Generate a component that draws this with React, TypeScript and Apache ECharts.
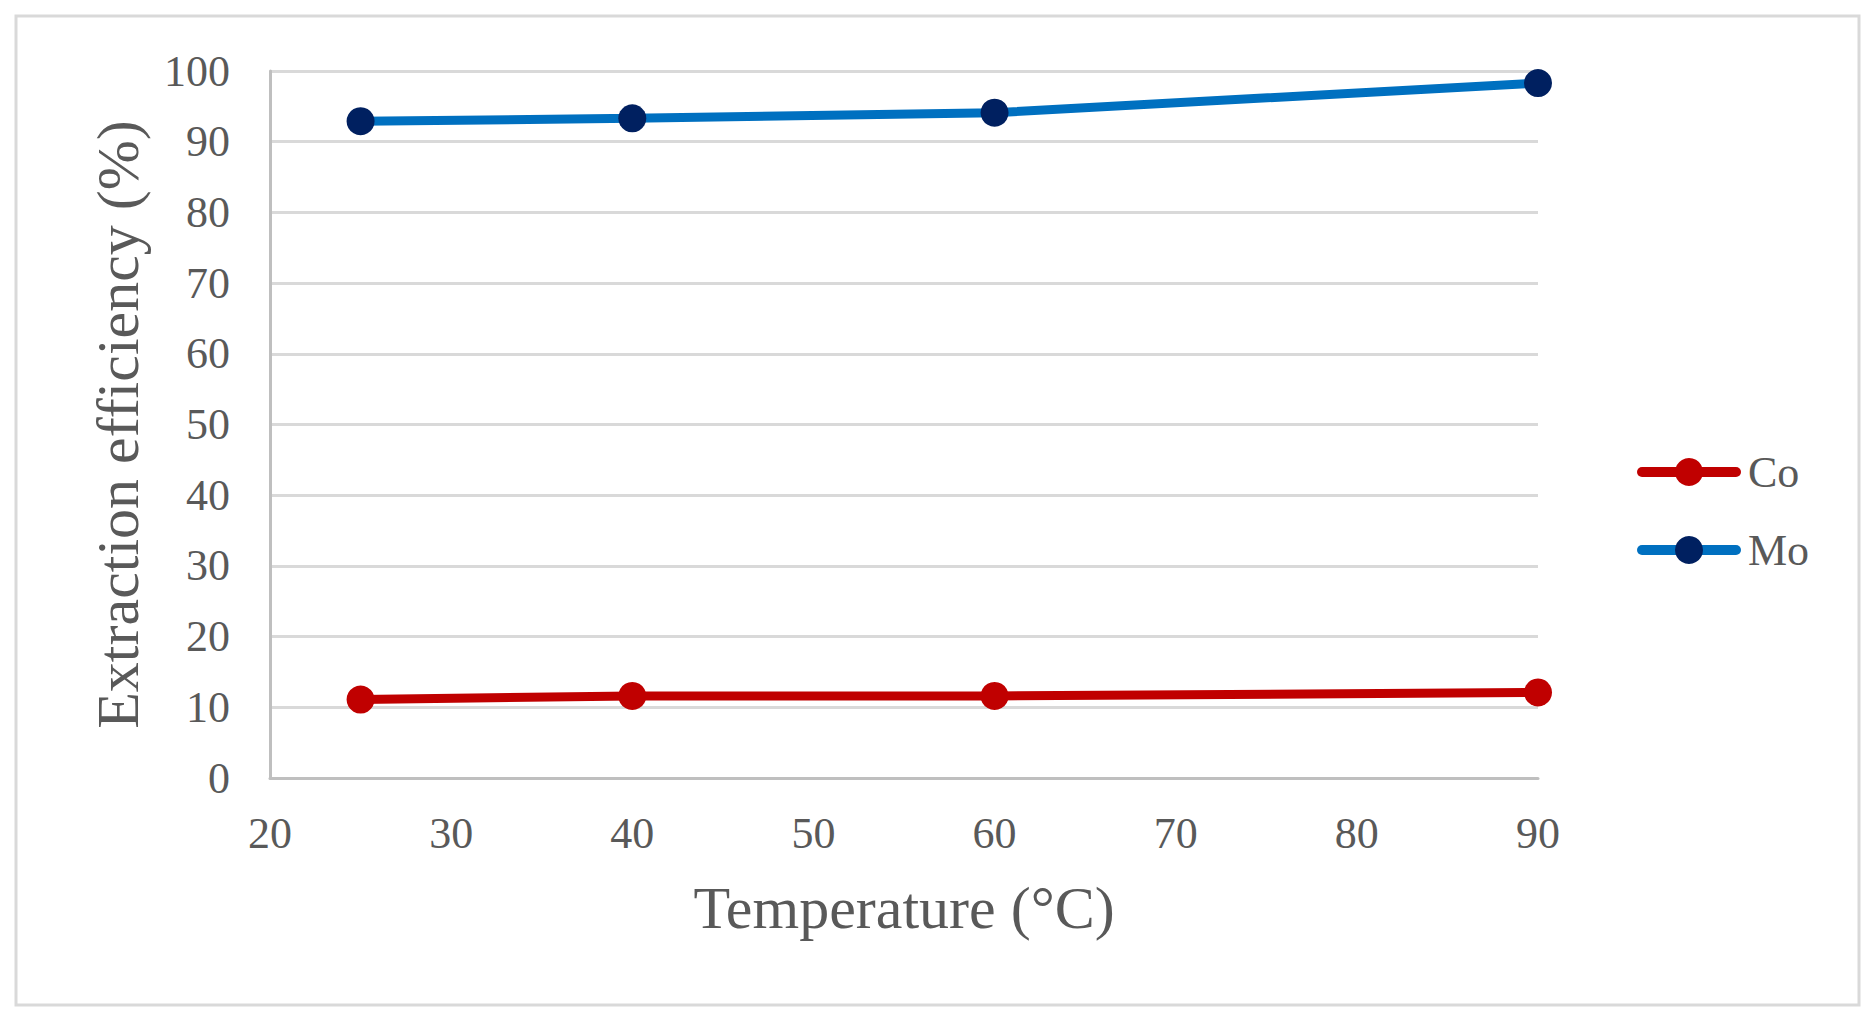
import React, { useEffect, useRef } from "react";
import * as echarts from "echarts";

const temperatures = [25, 40, 60, 90];
const coValues = [11.1, 11.6, 11.6, 12.1];
const moValues = [92.9, 93.3, 94.1, 98.3];
const seriesNames = ["Co", "Mo"];
const xTitle = "Temperature (°C)";
const yTitle = "Extraction efficiency (%)";

const FONT = "'Liberation Serif', 'Times New Roman', serif";
const TEXT = "#595959";

export default function App() {
  const ref = useRef<HTMLDivElement>(null);
  useEffect(() => {
    if (!ref.current) return;
    const chart = echarts.init(ref.current, undefined, { renderer: "svg" });
    const mk = (arr: number[]) => temperatures.map((t, i) => [t, arr[i]]);
    chart.setOption({
      animation: false,
      backgroundColor: "#ffffff",
      textStyle: { fontFamily: FONT },
      graphic: [
        {
          type: "rect",
          shape: { x: 16, y: 16, width: 1843, height: 989 },
          style: { fill: "none", stroke: "#d9d9d9", lineWidth: 3 },
          silent: true,
        },
      ],
      grid: { left: 270, right: 338, top: 71, bottom: 246 },
      xAxis: {
        type: "value",
        min: 20,
        max: 90,
        interval: 10,
        name: xTitle,
        nameLocation: "middle",
        nameGap: 100,
        nameTextStyle: { fontSize: 60, color: TEXT, fontFamily: FONT },
        axisLine: { show: true, onZero: false, lineStyle: { color: "#bfbfbf", width: 3 } },
        axisTick: { show: false },
        splitLine: { show: false },
        axisLabel: { fontSize: 44, color: TEXT, margin: 33, fontFamily: FONT },
      },
      yAxis: {
        type: "value",
        min: 0,
        max: 100,
        interval: 10,
        name: yTitle,
        nameLocation: "middle",
        nameGap: 122,
        nameTextStyle: { fontSize: 60, color: TEXT, fontFamily: FONT },
        axisLine: { show: true, lineStyle: { color: "#bfbfbf", width: 3 } },
        axisTick: { show: false },
        splitLine: { show: true, lineStyle: { color: "#d9d9d9", width: 3 } },
        axisLabel: { fontSize: 44, color: TEXT, margin: 40, fontFamily: FONT },
      },
      legend: {
        orient: "vertical",
        left: 1632,
        top: 445,
        itemWidth: 94,
        itemHeight: 35,
        itemGap: 34,
        lineStyle: { width: 10, cap: "round" },
        textStyle: { fontSize: 44, color: TEXT, fontFamily: FONT, padding: [0, 0, 0, 7] },
        data: seriesNames,
      },
      series: [
        {
          name: seriesNames[0],
          type: "line",
          data: mk(coValues),
          symbol: "circle",
          symbolSize: 28,
          lineStyle: { color: "#c00000", width: 9, cap: "round" },
          itemStyle: { color: "#c00000" },
        },
        {
          name: seriesNames[1],
          type: "line",
          data: mk(moValues),
          symbol: "circle",
          symbolSize: 28,
          lineStyle: { color: "#0070c0", width: 9, cap: "round" },
          itemStyle: { color: "#002060" },
        },
      ],
    });
    return () => chart.dispose();
  }, []);
  return (
    <div
      ref={ref}
      style={{ position: "fixed", left: 0, top: 0, width: 1876, height: 1024 }}
    />
  );
}
